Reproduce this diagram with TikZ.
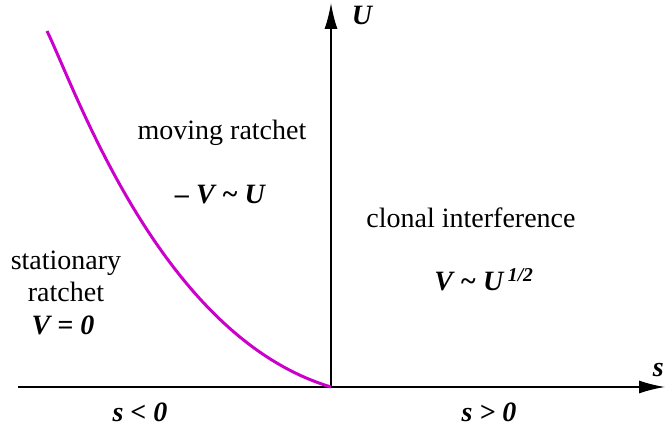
\documentclass[tikz,border=0pt]{standalone}
\usepackage{fontspec}
\setmainfont{Liberation Serif}
\usetikzlibrary{arrows.meta}
\definecolor{ratchetmag}{RGB}{204,0,204}

\begin{document}
\begin{tikzpicture}[x=1pt,y=1pt,>={Latex[length=26pt,width=13pt]},
  every node/.style={font=\fontsize{28}{32}\selectfont},
  lab/.style={font=\fontsize{28}{32}\selectfont\bfseries\itshape}]
  \useasboundingbox (0,0) rectangle (665,426);
  \coordinate (O) at (331,39);
  \coordinate (xstart) at (18,39);
  \coordinate (xend) at (665,39);
  \coordinate (yend) at (331,423);
  \draw[line width=1.6pt,->] (xstart)--(xend);
  \draw[line width=1.6pt,->] (O)--(yend);
  \node[lab] (U) at (362,411) {U};
  \node[lab,anchor=east,inner sep=0pt] (s) at (664,56) {s};
  \node (moving) at (222,293) {moving ratchet};
  \node[lab] (minusV) at (220,231) {– V \textasciitilde{} U};
  \node (clonal) at (471,208) {clonal interference};
  \node[lab] (Vhalf) at (484,146) {V \textasciitilde{} U\,\textsuperscript{1/2}};
  \node[align=center] (stat) at (66,150) {stationary\\ratchet};
  \node[lab] (Vzero) at (63,101) {V = 0};
  \node[lab] (sneg) at (140,14) {s < 0};
  \node[lab] (spos) at (489,14) {s > 0};
  \draw[ratchetmag,line width=3pt] (O) .. controls (161,90) and (77,333) .. (47,395);
\end{tikzpicture}
\end{document}
